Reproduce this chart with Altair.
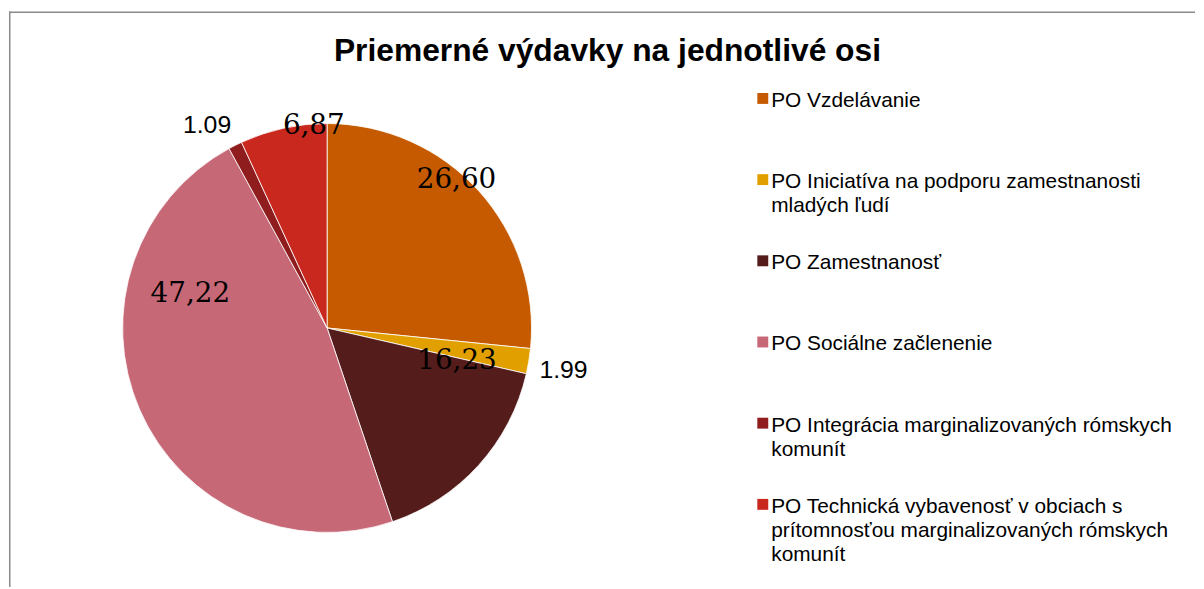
import altair as alt
import pandas as pd

# ---- data ----
TITLE = "Priemerné výdavky na jednotlivé osi"
CATEGORIES = [
    "PO Vzdelávanie",
    "PO Iniciatíva na podporu zamestnanosti\nmladých ľudí",
    "PO Zamestnanosť",
    "PO Sociálne začlenenie",
    "PO Integrácia marginalizovaných rómskych\nkomunít",
    "PO Technická vybavenosť v obciach s\nprítomnosťou marginalizovaných rómskych\nkomunít",
]
VALUES = [26.60, 1.99, 16.23, 47.22, 1.09, 6.87]
LABELS = ["26,60", "1.99", "16,23", "47,22", "1.09", "6,87"]

# ---- styling / layout ----
COLORS = ["#C55A00", "#E2A000", "#541D1B", "#C76877", "#8F1D1E", "#C8281D"]
LABEL_FONT = ["serif", "sans", "serif", "serif", "sans", "serif"]
LABEL_SHIFT_DEG = [-6.7, 0.8, -28.0, 37.7, -3.85, 8.6]
LABEL_RADIUS = [198, 242, 135, 142, 238, 204]

PIE_R = 206
VIEW_W, VIEW_H = 641, 638

df = pd.DataFrame({
    "category": CATEGORIES,
    "value": VALUES,
    "label": LABELS,
    "idx": list(range(len(CATEGORIES))),
    "font": LABEL_FONT,
    "shift": LABEL_SHIFT_DEG,
    "r": LABEL_RADIUS,
})

color = alt.Color("category:N", scale=alt.Scale(domain=CATEGORIES, range=COLORS), legend=None)

pie = alt.Chart(df).mark_arc(radius=PIE_R, stroke="white", strokeWidth=0.8).encode(
    theta=alt.Theta("value:Q", stack=True),
    order=alt.Order("idx:Q"),
    color=color,
)

lab_base = alt.Chart(df).transform_window(
    cum="sum(value)", sort=[alt.SortField("idx")], frame=[None, 0]
).transform_joinaggregate(
    total="sum(value)"
).transform_calculate(
    ang="(datum.cum - datum.value/2)/datum.total*2*PI + datum.shift*PI/180"
)

lab_serif = lab_base.transform_filter(alt.datum.font == "serif").mark_text(
    font="DejaVu Serif", fontSize=28, color="black", align="center", baseline="middle"
).encode(
    theta=alt.Theta("ang:Q", scale=None),
    radius=alt.Radius("r:Q", scale=None),
    text="label:N",
)
lab_sans = lab_base.transform_filter(alt.datum.font == "sans").mark_text(
    font="Liberation Sans", fontSize=25, color="black", align="center", baseline="middle"
).encode(
    theta=alt.Theta("ang:Q", scale=None),
    radius=alt.Radius("r:Q", scale=None),
    text="label:N",
)

ly = alt.Y("category:N", scale=alt.Scale(domain=CATEGORIES, range=[87.7, 496.7], padding=0), axis=None)
leg_sq = alt.Chart(df).mark_square(size=121, opacity=1).encode(
    x=alt.value(759.5), y=ly, color=color
)
leg_txt = alt.Chart(df).mark_text(
    font="Liberation Sans", fontSize=21, color="black", align="left", baseline="top",
    lineBreak="\n", lineHeight=24.5, yOffset=-8.5
).encode(
    x=alt.value(768), y=ly, text="category:N"
)

tdf = pd.DataFrame({"t": [TITLE]})
title = alt.Chart(tdf).mark_text(
    font="Liberation Sans", fontSize=32, fontWeight="bold", color="black",
    align="center", baseline="alphabetic"
).encode(x=alt.value(603), y=alt.value(50), text="t:N")

border_top = alt.Chart(tdf).mark_rule(color="#8a8a8a", strokeWidth=1.5).encode(
    x=alt.value(0), x2=alt.value(1195), y=alt.value(0.75), y2=alt.value(0.75)
)
border_left = alt.Chart(tdf).mark_rule(color="#8a8a8a", strokeWidth=1.5).encode(
    x=alt.value(0.75), x2=alt.value(0.75), y=alt.value(0), y2=alt.value(580)
)

chart = alt.layer(
    border_top, border_left, pie, lab_serif, lab_sans, leg_sq, leg_txt, title
).resolve_scale(
    theta="independent", radius="independent"
).properties(
    width=VIEW_W, height=VIEW_H, padding=0,
    autosize=alt.AutoSizeParams(type="pad"),
).configure_view(stroke=None)

chart.save("out.html", embed_options={"renderer": "svg", "actions": False})
